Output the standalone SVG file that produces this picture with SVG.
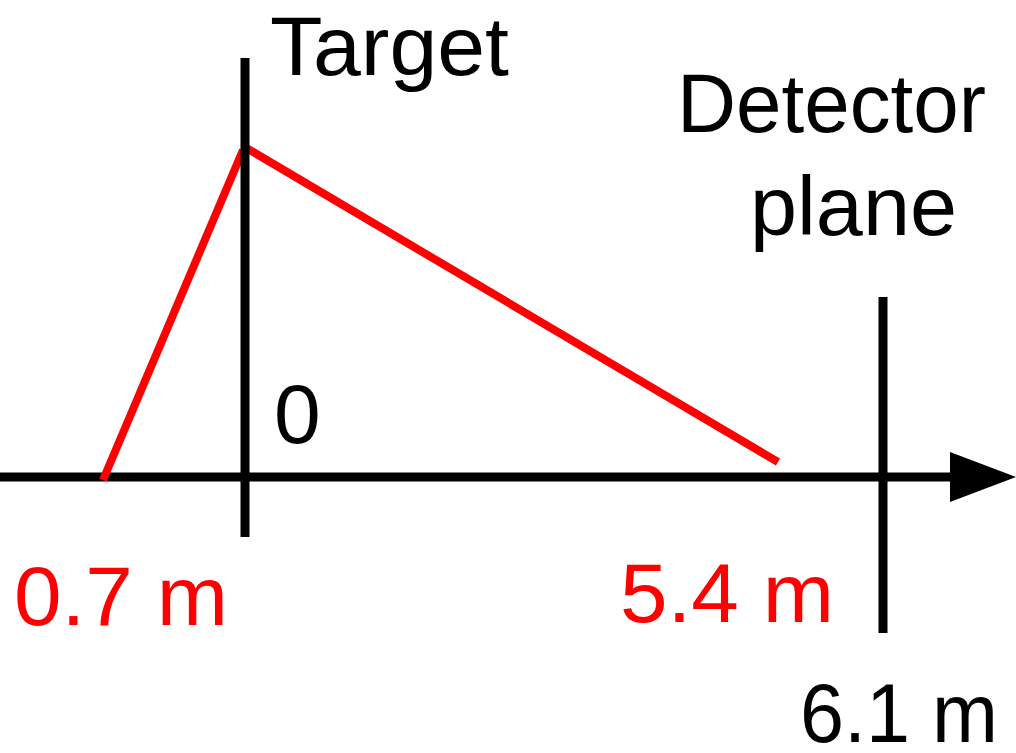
<svg xmlns="http://www.w3.org/2000/svg" width="1016" height="753" viewBox="0 0 1016 753">
<style>
.ax{stroke:#000;stroke-width:9;fill:none}
.rd{stroke:#ff0000;stroke-width:8;fill:none}
text{font-family:"Liberation Sans",Arial,sans-serif;font-size:84px;fill:#000}
.r{fill:#ff0000}
</style>
<rect width="1016" height="753" fill="#fff"/>
<g id="connectors">
<line class="ax" x1="0" y1="477" x2="952" y2="477"/>
<polygon points="950,452 1016,477 950,502" fill="#000"/>
<line class="rd" x1="103" y1="480" x2="243" y2="150"/>
<line class="rd" x1="243" y1="146" x2="778" y2="462"/>
</g>
<g id="target">
<line class="ax" x1="245" y1="58" x2="245" y2="537"/>
<text x="270" y="75" textLength="239" lengthAdjust="spacingAndGlyphs">Target</text>
</g>
<g id="detector">
<line class="ax" x1="883" y1="297" x2="883" y2="633"/>
<text x="677" y="132" textLength="309" lengthAdjust="spacingAndGlyphs">Detector</text>
<text x="750" y="235" textLength="207" lengthAdjust="spacingAndGlyphs">plane</text>
</g>
<g id="labels">
<text x="274" y="443">0</text>
<text class="r" x="14" y="625" textLength="214" lengthAdjust="spacingAndGlyphs">0.7 m</text>
<text class="r" x="620" y="622" textLength="214" lengthAdjust="spacingAndGlyphs">5.4 m</text>
<text x="800" y="742" textLength="198" lengthAdjust="spacingAndGlyphs">6.1 m</text>
</g>
</svg>
